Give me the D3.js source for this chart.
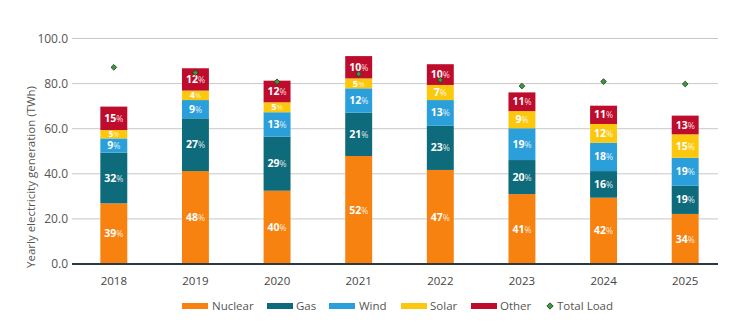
<!DOCTYPE html>
<html><head><meta charset="utf-8">
<script src="https://cdn.jsdelivr.net/npm/d3@7"></script>
<style>body{margin:0;background:#fff}svg{display:block;font-family:"Open Sans",sans-serif}</style>
</head><body><svg id="c" width="750" height="332"></svg>
<script>
const years = ["2018","2019","2020","2021","2022","2023","2024","2025"];
const nuclear = [26.9,41.2,32.5,47.9,41.7,31.0,29.4,22.2];
const gas     = [22.5,23.4,24.0,19.2,19.6,15.1,11.8,12.5];
const wind    = [6.3,8.1,10.8,10.8,11.4,14.1,12.6,12.4];
const solar   = [3.7,4.2,4.4,4.4,6.7,7.6,8.3,10.4];
const other   = [10.4,9.9,9.6,9.9,9.2,8.3,8.1,8.3];
const nuclearPct = [39,48,40,52,47,41,42,34];
const gasPct     = [32,27,29,21,23,20,16,19];
const windPct    = [9,9,13,12,13,19,18,19];
const solarPct   = [5,4,5,5,7,9,12,15];
const otherPct   = [15,12,12,10,10,11,11,13];
const totalLoad  = [87.2,84.8,80.8,84.3,81.6,78.9,80.9,79.8];
const yTicks = [0,20,40,60,80,100];

const series = [
  {name:"Nuclear", vals:nuclear, pct:nuclearPct, color:"#F7820F"},
  {name:"Gas", vals:gas, pct:gasPct, color:"#0E6B7C"},
  {name:"Wind", vals:wind, pct:windPct, color:"#2B9FDA"},
  {name:"Solar", vals:solar, pct:solarPct, color:"#FCC80E"},
  {name:"Other", vals:other, pct:otherPct, color:"#BE0C2D"}
];

const svg = d3.select("#c");
const x = d3.scaleBand().domain(years).range([73,726]).paddingInner(0.67).paddingOuter(0.335);
const y = d3.scaleLinear().domain([0,100]).range([264,38.5]);

// gridlines
svg.append("g").selectAll("line").data(yTicks.filter(d=>d>0)).join("line")
  .attr("x1",72).attr("x2",718).attr("y1",d=>y(d)).attr("y2",d=>y(d))
  .attr("stroke","#c8c8c8").attr("stroke-width",1);

// y axis labels
const yAxis = d3.axisLeft(y).tickValues(yTicks).tickFormat(d3.format(".1f")).tickSize(0).tickPadding(0);
const ga = svg.append("g").attr("transform","translate(68,0)").call(yAxis);
ga.select(".domain").remove();
ga.selectAll("text").attr("fill","#555").attr("font-size",12).attr("font-family","Open Sans, sans-serif");

svg.append("text").attr("transform","translate(35,177) rotate(-90)")
  .attr("text-anchor","middle").attr("fill","#555").attr("font-size",11.5)
  .text("Yearly electricity generation (TWh)");

// stacks
const table = years.map((yr,i)=>{const o={year:yr}; series.forEach(s=>o[s.name]=s.vals[i]); return o;});
const stack = d3.stack().keys(series.map(s=>s.name))(table);
stack.forEach((layer,k)=>{
  const s = series[k];
  const g = svg.append("g");
  g.selectAll("rect").data(layer).join("rect")
    .attr("x",d=>x(d.data.year)).attr("width",x.bandwidth())
    .attr("y",d=>y(d[1])).attr("height",d=>y(d[0])-y(d[1]))
    .attr("fill",s.color);
  const fs = d=>Math.min(10.5, (y(d[0])-y(d[1]))*0.95);
  const t = g.selectAll("text").data(layer).join("text")
    .attr("x",d=>x(d.data.year)+x.bandwidth()/2)
    .attr("y",d=>(y(d[0])+y(d[1]))/2+fs(d)*0.34)
    .attr("text-anchor","middle").attr("fill","#fff");
  t.append("tspan").attr("font-weight",700).attr("font-size",d=>fs(d)).text((d,i)=>s.pct[i]);
  t.append("tspan").attr("font-size",d=>fs(d)*0.82).attr("fill-opacity",0.85).text("%");
});

// baseline
svg.append("line").attr("x1",72).attr("x2",718).attr("y1",y(0)).attr("y2",y(0))
  .attr("stroke","#2b3a40").attr("stroke-width",2);

// x labels
const xAxis = d3.axisBottom(x).tickSize(0).tickPadding(0);
const gx = svg.append("g").attr("transform","translate(0,285)").call(xAxis);
gx.select(".domain").remove();
gx.selectAll("text").attr("fill","#444").attr("font-size",11.5).attr("dy",0).attr("font-family","Open Sans, sans-serif");

// total load markers (rotated squares)
const sq = d3.symbol().type(d3.symbolSquare).size(16);
svg.append("g").selectAll("path").data(totalLoad).join("path")
  .attr("d",sq)
  .attr("transform",(d,i)=>`translate(${x(years[i])+x.bandwidth()/2},${y(d)}) rotate(45)`)
  .attr("fill","#3d9a3d").attr("stroke","#1f3d1f").attr("stroke-width",0.8);

// legend
const legendItems = [
  {name:"Nuclear", sx:182, tx:212},
  {name:"Gas", sx:267, tx:296},
  {name:"Wind", sx:329, tx:359},
  {name:"Solar", sx:401, tx:430},
  {name:"Other", sx:471, tx:500}
];
const lg = svg.append("g");
legendItems.forEach((it,k)=>{
  lg.append("rect").attr("x",it.sx).attr("y",303).attr("width",26).attr("height",6).attr("fill",series[k].color);
  lg.append("text").attr("x",it.tx).attr("y",310).attr("font-size",11.5).attr("fill","#555").text(it.name);
});
lg.append("path").attr("d",d3.symbol().type(d3.symbolSquare).size(20))
  .attr("transform","translate(550,306) rotate(45)").attr("fill","#3d9a3d").attr("stroke","#1f3d1f").attr("stroke-width",0.8);
lg.append("text").attr("x",557).attr("y",310).attr("font-size",11.5).attr("fill","#555").text("Total Load");
</script></body></html>
